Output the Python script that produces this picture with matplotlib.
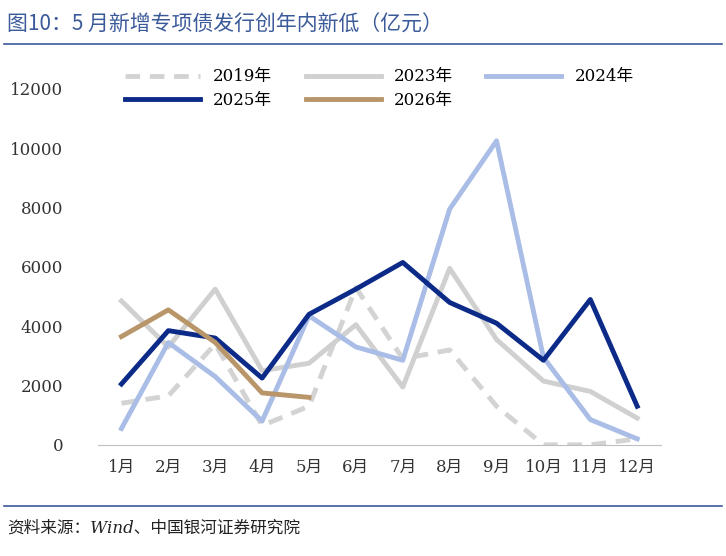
import matplotlib
matplotlib.use("Agg")
import matplotlib.pyplot as plt

plt.rcParams['font.family'] = ['DejaVu Serif', 'Noto Sans CJK SC']

months = ['1月', '2月', '3月', '4月', '5月', '6月', '7月', '8月', '9月', '10月', '11月', '12月']
v2019 = [1400, 1650, 3400, 650, 1300, 5300, 2900, 3200, 1300, 0, 0, 200]
v2023 = [4850, 3300, 5250, 2500, 2750, 4050, 1950, 5950, 3550, 2150, 1800, 900]
v2024 = [550, 3450, 2300, 800, 4350, 3300, 2850, 7950, 10250, 2950, 850, 200]
v2025 = [2050, 3850, 3600, 2250, 4400, 5250, 6150, 4800, 4100, 2850, 4900, 1300]
v2026 = [3650, 4550, 3450, 1750, 1600]

fig = plt.figure(figsize=(7.26, 5.56), dpi=100)
ax = fig.add_axes([0.135, 0.2, 0.775, 0.64])

x = list(range(len(months)))
l19, = ax.plot(x, v2019, color='#d3d3d3', lw=3.5, ls=(0, (3, 2)), label='2019年')
l23, = ax.plot(x, v2023, color='#d0d0d0', lw=3.5, label='2023年')
l24, = ax.plot(x, v2024, color='#a9bde6', lw=3.5, label='2024年')
l25, = ax.plot(x, v2025, color='#0c2a88', lw=3.5, label='2025年')
l26, = ax.plot(x[:len(v2026)], v2026, color='#b8966a', lw=3.5, label='2026年')

ax.set_ylim(0, 12000)
ax.set_yticks(range(0, 12001, 2000))
ax.set_xlim(-0.5, 11.5)
ax.set_xticks(x)
ax.set_xticklabels(months)
ax.tick_params(length=0, labelsize=12, colors='#333333')
ax.tick_params(axis='x', pad=10)
ax.tick_params(axis='y', pad=25)
for s in ['top', 'right', 'left']:
    ax.spines[s].set_visible(False)
ax.spines['bottom'].set_color('#bfbfbf')

handles = [l19, l25, l23, l26, l24]
ax.legend(handles, [h.get_label() for h in handles], loc='upper center',
          bbox_to_anchor=(0.5, 1.1), ncol=3, frameon=False,
          fontsize=12, handlelength=4.5, columnspacing=2.0, labelspacing=0.4)

fig.text(0.01, 0.955, '图10：5 月新增专项债发行创年内新低（亿元）', color='#3b5a9a',
         fontsize=15, va='center', family=['Noto Sans CJK SC'])
fig.add_artist(plt.Line2D([0.005, 0.995], [0.92, 0.92], color='#3b5a9a', lw=1.2))
fig.add_artist(plt.Line2D([0.005, 0.995], [0.09, 0.09], color='#3b5a9a', lw=1.2))
fig.text(0.01, 0.05, '资料来源：Wind、中国银河证券研究院', fontsize=12, style='italic',
         va='center', color='#222222')

fig.savefig('out.png', dpi=100)
